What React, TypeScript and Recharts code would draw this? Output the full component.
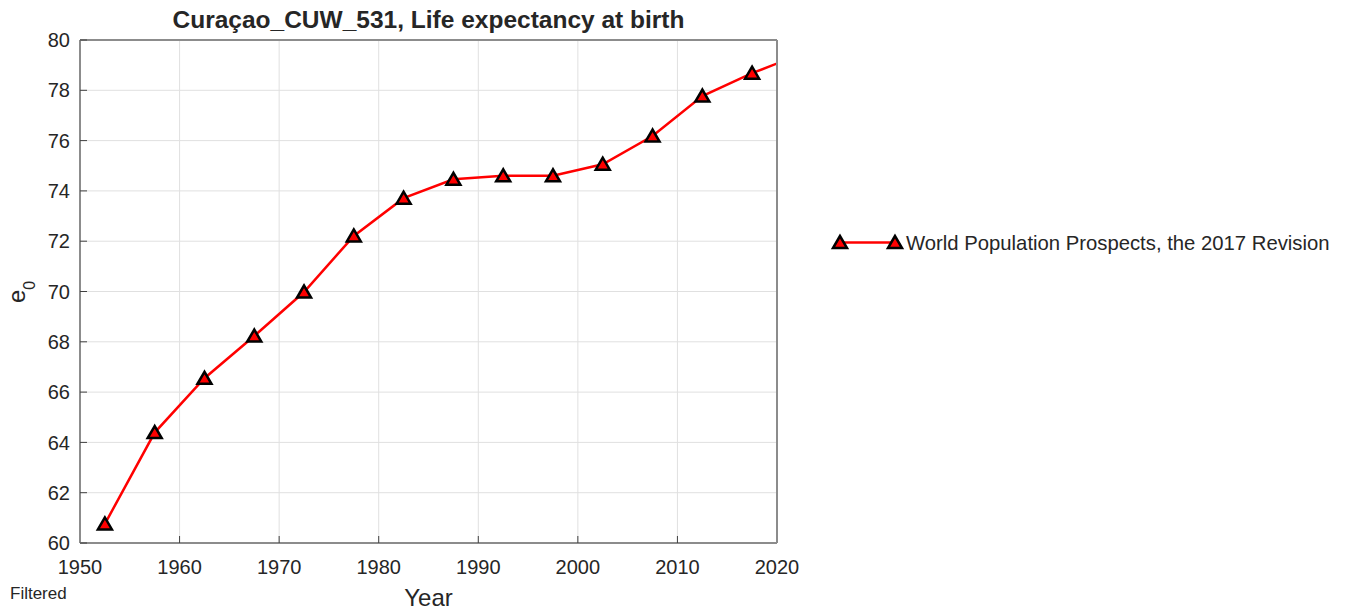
import React from 'react';
import { LineChart, Line, XAxis, YAxis, CartesianGrid, Legend } from 'recharts';

const chartTitle = 'Curaçao_CUW_531, Life expectancy at birth';
const seriesName = 'World Population Prospects, the 2017 Revision';
const xLabel = 'Year';
const footNote = 'Filtered';

const years = [1952.5, 1957.5, 1962.5, 1967.5, 1972.5, 1977.5, 1982.5, 1987.5, 1992.5, 1997.5, 2002.5, 2007.5, 2012.5, 2017.5, 2022.5];
const e0Values = [60.76, 64.39, 66.55, 68.23, 69.98, 72.21, 73.71, 74.46, 74.6, 74.6, 75.06, 76.18, 77.77, 78.68, 79.45];
const xTicks = [1950, 1960, 1970, 1980, 1990, 2000, 2010, 2020];
const yTicks = [60, 62, 64, 66, 68, 70, 72, 74, 76, 78, 80];
const xDomain: [number, number] = [1950, 2020];
const yDomain: [number, number] = [60, 80];

const data = years.map((year, i) => ({ year, e0: e0Values[i] }));

const FONT = '"Liberation Sans", Arial, Helvetica, sans-serif';
const TEXT = '#262626';
const AXIS = '#8c8c8c';
const TICK = '#404040';

const Triangle = ({ cx, cy }: { cx: number; cy: number }) => (
  <polygon
    points={`${cx},${cy - 6.5} ${cx - 7},${cy + 5.5} ${cx + 7},${cy + 5.5}`}
    fill="#ff0000"
    stroke="#000000"
    strokeWidth={2.5}
    strokeLinejoin="miter"
  />
);

const renderDot = (props: any) => {
  const { cx, cy, payload, index } = props;
  if (payload == null || payload.year > xDomain[1] || cx == null || cy == null) {
    return <g key={`dot-${index}`} />;
  }
  return (
    <g key={`dot-${index}`}>
      <Triangle cx={cx} cy={cy} />
    </g>
  );
};

const renderLegend = (props: any) => {
  const item = props && props.payload && props.payload[0];
  const name = (item && item.value) || seriesName;
  return (
    <svg width={530} height={30} style={{ display: 'block', overflow: 'visible' }}>
      <line x1={10} y1={14.5} x2={65} y2={14.5} stroke="#ff0000" strokeWidth={2.5} />
      <Triangle cx={10} cy={14.5} />
      <Triangle cx={65} cy={14.5} />
      <text x={76} y={22} fontSize={20.3} fontFamily={FONT} fill={TEXT}>
        {name}
      </text>
    </svg>
  );
};

export default function App() {
  return (
    <div style={{ position: 'absolute', left: 0, top: 0, width: 1364, height: 613, background: '#ffffff' }}>
      <LineChart
        width={1364}
        height={613}
        data={data}
        margin={{ top: 39, right: 586, bottom: 40, left: 20 }}
      >
        <CartesianGrid xAxisId="b" yAxisId="l" stroke="#e0e0e0" strokeWidth={1} />
        <XAxis
          xAxisId="b"
          dataKey="year"
          type="number"
          domain={xDomain}
          ticks={xTicks}
          interval={0}
          allowDataOverflow
          orientation="bottom"
          height={30}
          axisLine={{ stroke: AXIS, strokeWidth: 2 }}
          tickLine={{ stroke: TICK, strokeWidth: 1 }}
          tickSize={-7}
          tickMargin={24}
          tick={{ fill: TEXT, fontSize: 20, fontFamily: FONT }}
        />
        <XAxis
          xAxisId="t"
          type="number"
          domain={xDomain}
          ticks={xTicks}
          interval={0}
          allowDataOverflow
          orientation="top"
          height={1}
          axisLine={{ stroke: AXIS, strokeWidth: 2 }}
          tickLine={{ stroke: TICK, strokeWidth: 1 }}
          tickSize={-7}
          tick={false}
        />
        <YAxis
          yAxisId="l"
          type="number"
          domain={yDomain}
          ticks={yTicks}
          interval={0}
          allowDataOverflow
          orientation="left"
          width={60}
          axisLine={{ stroke: AXIS, strokeWidth: 2 }}
          tickLine={{ stroke: TICK, strokeWidth: 1 }}
          tickSize={-7}
          tickMargin={17}
          tick={{ fill: TEXT, fontSize: 20, fontFamily: FONT }}
        />
        <YAxis
          yAxisId="r"
          type="number"
          domain={yDomain}
          ticks={yTicks}
          interval={0}
          allowDataOverflow
          orientation="right"
          width={1}
          axisLine={{ stroke: AXIS, strokeWidth: 2 }}
          tickLine={{ stroke: TICK, strokeWidth: 1 }}
          tickSize={-7}
          tick={false}
        />
        <Legend
          layout="horizontal"
          align="center"
          verticalAlign="middle"
          content={renderLegend}
          wrapperStyle={{ left: 830, top: 228, width: 530, height: 30 }}
        />
        <Line
          xAxisId="b"
          yAxisId="l"
          type="linear"
          dataKey="e0"
          name={seriesName}
          stroke="#ff0000"
          strokeWidth={2.5}
          dot={renderDot}
          activeDot={false}
          isAnimationActive={false}
        />
      </LineChart>

      <div
        style={{
          position: 'absolute',
          left: 0,
          top: 8,
          width: 857,
          textAlign: 'center',
          fontFamily: FONT,
          fontWeight: 'bold',
          fontSize: 24.5,
          lineHeight: '24px',
          color: TEXT,
          whiteSpace: 'nowrap',
        }}
      >
        {chartTitle}
      </div>

      <div
        style={{
          position: 'absolute',
          left: 0,
          top: 586,
          width: 857,
          textAlign: 'center',
          fontFamily: FONT,
          fontSize: 24,
          lineHeight: '24px',
          color: TEXT,
        }}
      >
        {xLabel}
      </div>

      <div
        style={{
          position: 'absolute',
          left: 10,
          top: 585,
          fontFamily: FONT,
          fontSize: 17,
          lineHeight: '17px',
          color: TEXT,
        }}
      >
        {footNote}
      </div>

      <svg style={{ position: 'absolute', left: 0, top: 250, overflow: 'visible' }} width={50} height={80}>
        <text
          x={25}
          y={53}
          transform="rotate(-90 25 53)"
          fontFamily={FONT}
          fontSize={24}
          fill={TEXT}
        >
          <tspan>e</tspan>
          <tspan dy={10} fontSize={16}>0</tspan>
        </text>
      </svg>
    </div>
  );
}
